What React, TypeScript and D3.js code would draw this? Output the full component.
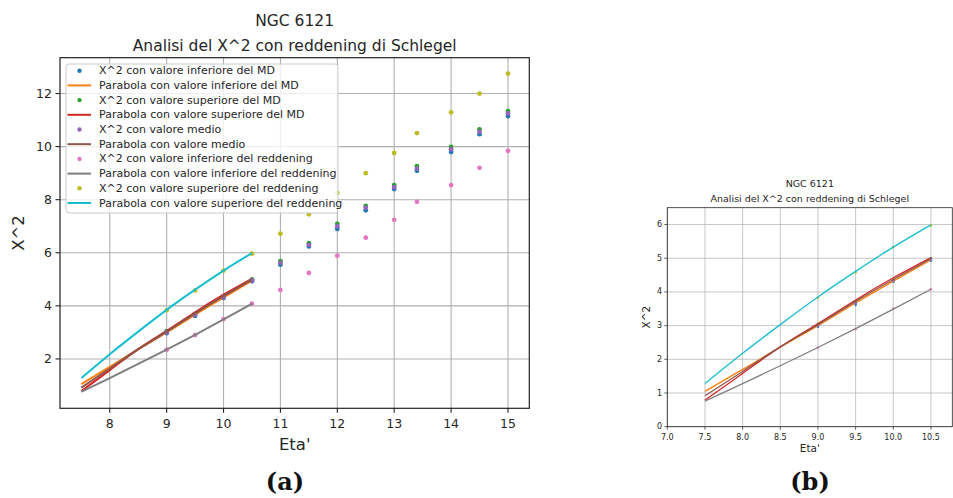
import React from 'react';
import * as d3 from 'd3';

// ---------- data ----------
const pointX = [9, 9.5, 10, 10.5, 11, 11.5, 12, 12.5, 13, 13.4, 14, 14.5, 15];
const chiInfMD = [2.97, 3.62, 4.3, 4.93, 5.55, 6.24, 6.9, 7.6, 8.4, 9.09, 9.8, 10.47, 11.15];
const chiSupMD = [3.05, 3.7, 4.36, 5.0, 5.68, 6.36, 7.09, 7.77, 8.55, 9.26, 9.99, 10.65, 11.34];
const chiMedio = [3.01, 3.66, 4.33, 4.96, 5.62, 6.3, 7.0, 7.7, 8.47, 9.17, 9.9, 10.56, 11.25];
const chiInfRed = [2.35, 2.9, 3.5, 4.08, 4.6, 5.24, 5.89, 6.57, 7.24, 7.92, 8.55, 9.2, 9.84];
const chiSupRed = [3.83, 4.58, 5.33, 5.97, 6.72, 7.45, 8.26, 9.0, 9.76, 10.51, 11.29, 12.0, 12.75];

const lineX = [7.5, 8, 8.5, 9, 9.5, 10, 10.5];
const parInfMD = [1.05, 1.7, 2.36, 3.0, 3.67, 4.32, 4.95];
const parSupMD = [0.79, 1.58, 2.37, 3.06, 3.76, 4.42, 5.02];
const parMedio = [0.92, 1.64, 2.37, 3.03, 3.72, 4.37, 4.99];
const parInfRed = [0.76, 1.28, 1.81, 2.35, 2.91, 3.49, 4.08];
const parSupRed = [1.28, 2.18, 3.03, 3.85, 4.61, 5.33, 5.99];

const legendLabels = [
  'X^2 con valore inferiore del MD',
  'Parabola con valore inferiore del MD',
  'X^2 con valore superiore del MD',
  'Parabola con valore superiore del MD',
  'X^2 con valore medio',
  'Parabola con valore medio',
  'X^2 con valore inferiore del reddening',
  'Parabola con valore inferiore del reddening',
  'X^2 con valore superiore del reddening',
  'Parabola con valore superiore del reddening',
];

const titleLines = ['NGC 6121', 'Analisi del X^2 con reddening di Schlegel'];
const leftXTicks = [8, 9, 10, 11, 12, 13, 14, 15];
const leftYTicks = [2, 4, 6, 8, 10, 12];
const rightXTicks = [7.0, 7.5, 8.0, 8.5, 9.0, 9.5, 10.0, 10.5];
const rightYTicks = [0, 1, 2, 3, 4, 5, 6];

// series in plot order: scatter, line, scatter, line ...
const layers: { kind: 'pts' | 'line'; data: number[]; color: string }[] = [
  { kind: 'pts', data: chiInfMD, color: '#1f77b4' },
  { kind: 'line', data: parInfMD, color: '#ff7f0e' },
  { kind: 'pts', data: chiSupMD, color: '#2ca02c' },
  { kind: 'line', data: parSupMD, color: '#d62728' },
  { kind: 'pts', data: chiMedio, color: '#9467bd' },
  { kind: 'line', data: parMedio, color: '#8c564b' },
  { kind: 'pts', data: chiInfRed, color: '#e377c2' },
  { kind: 'line', data: parInfRed, color: '#7f7f7f' },
  { kind: 'pts', data: chiSupRed, color: '#bcbd22' },
  { kind: 'line', data: parSupRed, color: '#17becf' },
];

const FONT = 'DejaVu Sans, sans-serif';

type Cfg = {
  id: string;
  left: number; right: number; top: number; bottom: number; spineRight: number;
  xDomain: [number, number]; yDomain: [number, number];
  xTicks: number[]; yTicks: number[]; fmt: (d: number) => string;
  tickFont: number; tickLen: number;
  titleFont: number; titleY: [number, number];
  labelFont: number; xLabelY: number; yLabelX: number;
  r: number; lw: number; legend: boolean;
  xTickLabelY: number; yTickLabelX: number;
};

function Panel({ c }: { c: Cfg }) {
  const x = d3.scaleLinear().domain(c.xDomain).range([c.left, c.right]);
  const y = d3.scaleLinear().domain(c.yDomain).range([c.bottom, c.top]);
  const line = d3
    .line<[number, number]>()
    .x((d) => x(d[0]))
    .y((d) => y(d[1]))
    .curve(d3.curveNatural);
  const cx = (c.left + c.spineRight) / 2;
  const cy = (c.top + c.bottom) / 2;
  const clipId = 'clip-' + c.id;
  return (
    <g>
      <defs>
        <clipPath id={clipId}>
          <rect x={c.left} y={c.top} width={c.spineRight - c.left} height={c.bottom - c.top} />
        </clipPath>
      </defs>
      {/* grid */}
      <g stroke="#b0b0b0" strokeWidth={c.lw * 0.55}>
        {c.xTicks.map((t) => (
          <line key={'gx' + t} x1={x(t)} x2={x(t)} y1={c.top} y2={c.bottom} />
        ))}
        {c.yTicks.map((t) => (
          <line key={'gy' + t} x1={c.left} x2={c.spineRight} y1={y(t)} y2={y(t)} />
        ))}
      </g>
      {/* data */}
      <g clipPath={`url(#${clipId})`}>
        {layers.map((L, i) =>
          L.kind === 'pts' ? (
            <g key={i} fill={L.color}>
              {pointX.map((px, j) => (
                <circle key={j} cx={x(px)} cy={y(L.data[j])} r={c.r} />
              ))}
            </g>
          ) : (
            <path
              key={i}
              d={line(lineX.map((lx, j) => [lx, L.data[j]] as [number, number])) || ''}
              fill="none"
              stroke={L.color}
              strokeWidth={c.lw}
            />
          )
        )}
      </g>
      {/* frame */}
      <rect
        x={c.left}
        y={c.top}
        width={c.spineRight - c.left}
        height={c.bottom - c.top}
        fill="none"
        stroke="#222"
        strokeWidth={c.lw * 0.6}
      />
      {/* ticks */}
      <g stroke="#222" strokeWidth={c.lw * 0.55}>
        {c.xTicks.map((t) => (
          <line key={'tx' + t} x1={x(t)} x2={x(t)} y1={c.bottom} y2={c.bottom + c.tickLen} />
        ))}
        {c.yTicks.map((t) => (
          <line key={'ty' + t} x1={c.left} x2={c.left - c.tickLen} y1={y(t)} y2={y(t)} />
        ))}
      </g>
      <g fontFamily={FONT} fontSize={c.tickFont} fill="#262626">
        {c.xTicks.map((t) => (
          <text key={'lx' + t} x={x(t)} y={c.xTickLabelY} textAnchor="middle">
            {c.fmt(t)}
          </text>
        ))}
        {c.yTicks.map((t) => (
          <text key={'ly' + t} x={c.yTickLabelX} y={y(t)} textAnchor="end" dominantBaseline="central">
            {c.fmt(t)}
          </text>
        ))}
      </g>
      {/* titles */}
      <g fontFamily={FONT} fontSize={c.titleFont} fill="#262626" textAnchor="middle">
        <text x={cx} y={c.titleY[0]}>{titleLines[0]}</text>
        <text x={cx} y={c.titleY[1]}>{titleLines[1]}</text>
      </g>
      <text x={cx} y={c.xLabelY} fontFamily={FONT} fontSize={c.labelFont} fill="#262626" textAnchor="middle">
        Eta'
      </text>
      <text
        transform={`translate(${c.yLabelX},${cy}) rotate(-90)`}
        fontFamily={FONT}
        fontSize={c.labelFont}
        fill="#262626"
        textAnchor="middle"
      >
        X^2
      </text>
      {c.legend && (
        <g>
          <rect x={66} y={64} width={272} height={149} rx={3} fill="#fff" fillOpacity={0.8} stroke="#cccccc" strokeWidth={1} />
          {legendLabels.map((lab, i) => {
            const ly = 70.7 + i * 14.7;
            const L = layers[i];
            return (
              <g key={lab}>
                {L.kind === 'pts' ? (
                  <circle cx={79.5} cy={ly} r={2.2} fill={L.color} />
                ) : (
                  <line x1={67.5} x2={91} y1={ly} y2={ly} stroke={L.color} strokeWidth={2} />
                )}
                <text x={99} y={ly} dominantBaseline="central" fontFamily={FONT} fontSize={11} fill="#262626">
                  {lab}
                </text>
              </g>
            );
          })}
        </g>
      )}
    </g>
  );
}

const leftCfg: Cfg = {
  id: 'a',
  left: 60, right: 529.3, top: 57.7, bottom: 408.3, spineRight: 529.3,
  xDomain: [7.125, 15.375], yDomain: [0.14, 13.35],
  xTicks: leftXTicks, yTicks: leftYTicks, fmt: (d) => String(d),
  tickFont: 12.5, tickLen: 4.5,
  titleFont: 15.5, titleY: [26, 51],
  labelFont: 16.5, xLabelY: 450, yLabelX: 24,
  r: 2.4, lw: 2, legend: false,
  xTickLabelY: 428, yTickLabelX: 52,
};

const rightCfg: Cfg = {
  id: 'b',
  left: 667.3, right: 968.6, top: 207.7, bottom: 426.7, spineRight: 952.3,
  xDomain: [7, 11], yDomain: [0, 6.5],
  xTicks: rightXTicks, yTicks: rightYTicks, fmt: (d) => d3.format('')(d),
  tickFont: 8, tickLen: 3,
  titleFont: 9.5, titleY: [187, 202],
  labelFont: 10.5, xLabelY: 452, yLabelX: 650,
  r: 1.3, lw: 1.3, legend: false,
  xTickLabelY: 440, yTickLabelX: 662,
};

export default function App() {
  const left = { ...leftCfg, legend: true };
  const right = { ...rightCfg, fmt: (d: number) => d.toFixed(rightCfg.id === 'b' && rightYTicks.includes(d) && !rightXTicks.includes(d) ? 0 : 1) };
  return (
    <svg
      width={953}
      height={498}
      style={{ position: 'absolute', left: 0, top: 0, background: '#fff' }}
    >
      <rect width={953} height={498} fill="#fff" />
      <Panel c={left} />
      <Panel c={right} />
      <text x={285} y={490} textAnchor="middle" fontFamily="DejaVu Serif, serif" fontWeight="bold" fontSize={24} fill="#111">
        (a)
      </text>
      <text x={810} y={490} textAnchor="middle" fontFamily="DejaVu Serif, serif" fontWeight="bold" fontSize={24} fill="#111">
        (b)
      </text>
    </svg>
  );
}
